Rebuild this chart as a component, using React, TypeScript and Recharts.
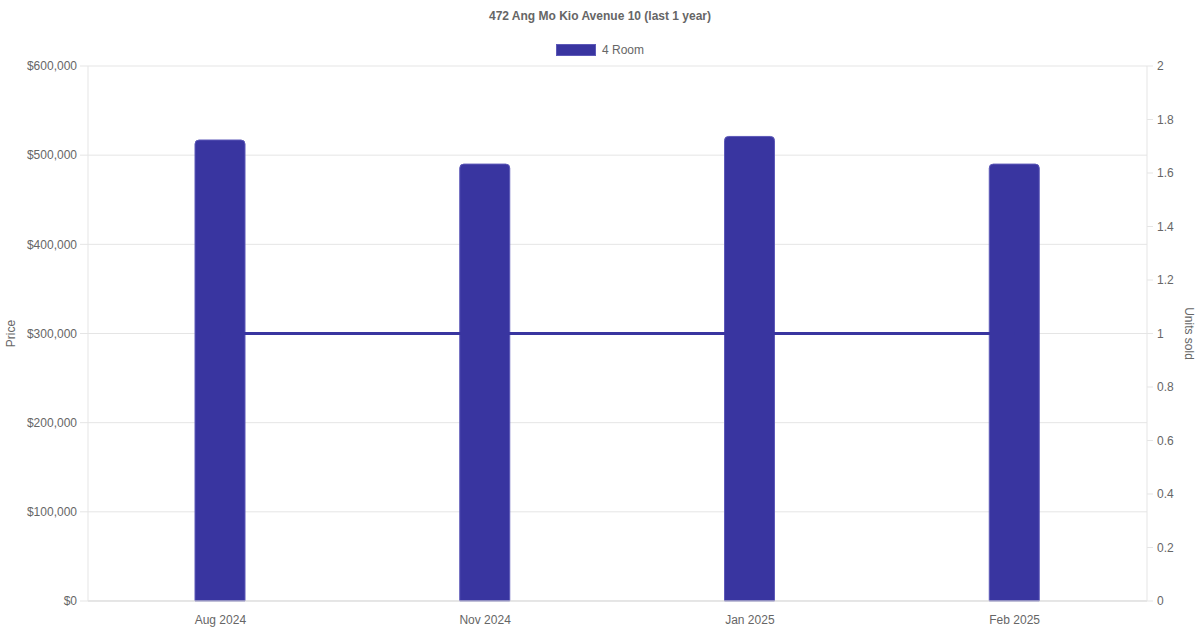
import {
  Bar,
  CartesianGrid,
  ComposedChart,
  Line,
  XAxis,
  YAxis,
} from "recharts";

const TITLE = "472 Ang Mo Kio Avenue 10 (last 1 year)";
const SERIES_NAME = "4 Room";
const months = ["Aug 2024", "Nov 2024", "Jan 2025", "Feb 2025"];
const prices = [517000, 490000, 521000, 490000];
const unitsSold = [1, 1, 1, 1];
const priceTicks = [0, 100000, 200000, 300000, 400000, 500000, 600000];
const unitTicks = [0, 0.2, 0.4, 0.6, 0.8, 1, 1.2, 1.4, 1.6, 1.8, 2];

const BAR_COLOR = "#3935a0";
const TEXT_COLOR = "#666";
const GRID_COLOR = "#e5e5e5";
const FONT = '"Liberation Sans", Arial, sans-serif';

const data = months.map((m, i) => ({
  month: m,
  price: prices[i],
  units: unitsSold[i],
}));

const tick = { fill: TEXT_COLOR, fontSize: 12, fontFamily: FONT };

export default function App() {
  return (
    <div
      style={{
        position: "absolute",
        left: 0,
        top: 0,
        width: 1200,
        height: 630,
        background: "#fff",
        fontFamily: FONT,
      }}
    >
      {/* 标题与图例放在 HTML 里，避免 Legend 挤占绘图区 */}
      <div
        style={{
          position: "absolute",
          top: 9,
          width: 1200,
          textAlign: "center",
          fontSize: 12,
          fontWeight: "bold",
          color: TEXT_COLOR,
        }}
      >
        {TITLE}
      </div>
      <div
        style={{
          position: "absolute",
          top: 43,
          left: 556,
          display: "flex",
          alignItems: "center",
          fontSize: 12,
          color: TEXT_COLOR,
        }}
      >
        <span
          style={{
            display: "inline-block",
            width: 38,
            height: 10,
            background: BAR_COLOR,
            border: "1px solid #5d59b8",
            marginRight: 6,
          }}
        />
        {SERIES_NAME}
      </div>
      <ComposedChart
        width={1200}
        height={630}
        data={data}
        margin={{ top: 66, right: 0, bottom: 0, left: 0 }}
      >
        <CartesianGrid vertical={false} stroke={GRID_COLOR} yAxisId="price" />
        <XAxis
          dataKey="month"
          height={29}
          tick={tick}
          tickLine={false}
          tickSize={0}
          tickMargin={14}
          axisLine={{ stroke: "#d9d9d9" }}
        />
        <YAxis
          yAxisId="price"
          width={88}
          domain={[0, 600000]}
          ticks={priceTicks}
          tick={tick}
          tickSize={8}
          tickMargin={3}
          tickLine={{ stroke: GRID_COLOR }}
          axisLine={{ stroke: GRID_COLOR }}
          tickFormatter={(v) => `$${Number(v).toLocaleString("en-US")}`}
          label={{
            value: "Price",
            angle: -90,
            position: "insideLeft",
            offset: 0,
            dx: 11,
            style: { fill: TEXT_COLOR, fontSize: 12, fontFamily: FONT, textAnchor: "middle" },
          }}
        />
        <YAxis
          yAxisId="units"
          orientation="right"
          width={53}
          domain={[0, 2]}
          ticks={unitTicks}
          tick={tick}
          tickSize={6}
          tickMargin={4}
          tickLine={{ stroke: GRID_COLOR }}
          axisLine={{ stroke: GRID_COLOR }}
          label={{
            value: "Units sold",
            angle: 90,
            position: "insideRight",
            offset: 0,
            dx: -11,
            style: { fill: TEXT_COLOR, fontSize: 12, fontFamily: FONT, textAnchor: "middle" },
          }}
        />
        <Line
          yAxisId="units"
          dataKey="units"
          stroke={BAR_COLOR}
          strokeWidth={3}
          dot={false}
          isAnimationActive={false}
        />
        <Bar
          yAxisId="price"
          dataKey="price"
          barSize={50}
          fill={BAR_COLOR}
          stroke="#5d59b8"
          strokeWidth={1}
          radius={[4, 4, 0, 0]}
          isAnimationActive={false}
        />
      </ComposedChart>
    </div>
  );
}
